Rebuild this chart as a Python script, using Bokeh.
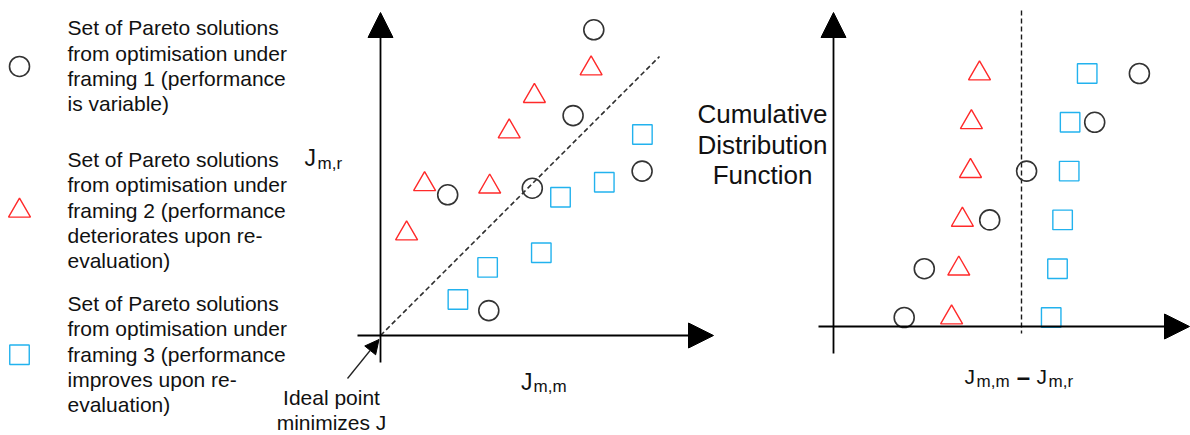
from bokeh.plotting import figure
from bokeh.models import Range1d, Arrow, NormalHead
from bokeh.embed import file_html
from bokeh.resources import INLINE
from bokeh.core.properties import value

# ---------------- data ----------------
# Panel 1: J_m,m (x) vs J_m,r (y) for the three framings
f1_jmm = [7.11, 6.42, 8.72, 5.06, 2.24, 3.61]
f1_jmr = [10.19, 7.33, 5.48, 4.91, 4.69, 0.83]
f2_jmm = [7.02, 5.13, 4.29, 1.47, 3.64, 0.87]
f2_jmr = [8.90, 7.98, 6.80, 5.04, 4.96, 3.40]
f3_jmm = [8.73, 7.46, 6.00, 5.36, 3.57, 2.58]
f3_jmr = [6.70, 5.11, 4.61, 2.76, 2.27, 1.20]

# Panel 2: cumulative distribution of J_m,m - J_m,r (rank 1..6)
cdf_rank = [1, 2, 3, 4, 5, 6]
f1_diff = [-3.91, -3.24, -1.06, 0.17, 2.44, 3.93]
f2_diff = [-2.33, -2.09, -1.97, -1.70, -1.67, -1.40]
f3_diff = [0.99, 1.20, 1.37, 1.59, 1.62, 2.19]

legend_texts = [
    ["Set of Pareto solutions", "from optimisation  under", "framing 1 (performance", "is variable)"],
    ["Set of Pareto solutions", "from optimisation  under", "framing 2 (performance", "deteriorates upon re-", "evaluation)"],
    ["Set of Pareto solutions", "from optimisation  under", "framing 3 (performance", "improves upon re-", "evaluation)"],
]
cdf_title = ["Cumulative", "Distribution", "Function"]

# ---------------- styles ----------------
W, H = 1190, 435
FONT = value("Liberation Sans")
TXT = "#111111"
C_BLACK = "#333333"
C_RED = "#ff2a2a"
C_BLUE = "#22b2ee"
styles = {
    "f1": dict(marker="circle", size=20, line_color=C_BLACK, line_width=1.6),
    "f2": dict(marker="triangle", size=22, line_color=C_RED, line_width=1.4),
    "f3": dict(marker="square", size=19.5, line_color=C_BLUE, line_width=1.4),
}

p = figure(width=W, height=H, x_range=Range1d(0, W), y_range=Range1d(H, 0),
           output_backend="svg", toolbar_location=None,
           x_axis_type=None, y_axis_type=None, min_border=0)
p.outline_line_color = None
p.xgrid.visible = False
p.ygrid.visible = False
p.background_fill_color = "white"
p.border_fill_color = "white"

# panel scales: pixel origin and pixels per unit
SC_OX, SC_OY, SC_K = 380, 335, 30
CD_OX, CD_K = 1021, 30
CD_OY, CD_KY = 365.8, 48.8
p.extra_x_ranges = {
    "sx": Range1d((0 - SC_OX) / SC_K, (W - SC_OX) / SC_K),
    "cx": Range1d((0 - CD_OX) / CD_K, (W - CD_OX) / CD_K),
}
p.extra_y_ranges = {
    "sy": Range1d((SC_OY - H) / SC_K, SC_OY / SC_K),
    "cy": Range1d((CD_OY - H) / CD_KY, CD_OY / CD_KY),
}


def label(xs, ys, texts, size, align="left", style="normal"):
    # ys are intended baselines; compensate for the svg baseline placement
    shift = 0.37 * size
    p.text(x=xs, y=[y - shift for y in ys], text=texts, text_font=FONT,
           text_font_size=f"{size}px", text_font_style=style,
           text_align=align, text_baseline="alphabetic", text_color=TXT)


# ---------------- legend ----------------
para_top = [35, 166.7, 310.7]
LH = 25.3
lx, ly, lt = [], [], []
sw_y = []
for top, lines in zip(para_top, legend_texts):
    for i, t in enumerate(lines):
        lx.append(67)
        ly.append(top + i * LH)
        lt.append(t)
    sw_y.append(top - 7 + (len(lines) - 1) * LH / 2)
label(lx, ly, lt, 21)
for key, yy in zip(["f1", "f2", "f3"], sw_y):
    p.scatter(x=[19], y=[yy], fill_color=None, **styles[key])

# ---------------- scatter panel ----------------
axis_kw = dict(line_color="black", line_width=1.8)
head = lambda s: NormalHead(size=s, fill_color="black", line_color="black", line_width=1)
p.add_layout(Arrow(end=head(25), x_start=SC_OX, y_start=362, x_end=SC_OX, y_end=12, **axis_kw))
p.add_layout(Arrow(end=head(25), x_start=357, y_start=SC_OY, x_end=713, y_end=SC_OY, **axis_kw))
p.line(x=[0, 9.3], y=[0, 9.3], x_range_name="sx", y_range_name="sy",
       line_color="#2e2e2e", line_width=1.6, line_dash="5 3")
for key, xs, ys in [("f1", f1_jmm, f1_jmr), ("f2", f2_jmm, f2_jmr), ("f3", f3_jmm, f3_jmr)]:
    p.scatter(x=xs, y=ys, x_range_name="sx", y_range_name="sy", fill_color=None, **styles[key])

# ideal point annotation
p.add_layout(Arrow(end=head(14), x_start=347, y_start=378, x_end=378.5, y_end=339,
                   line_color="#222222", line_width=1.3))
label([331, 331], [405, 430], ["Ideal point", "minimizes J"], 21, align="center")

# axis labels J_m,r and J_m,m
label([304, 520.5], [166.5, 390], ["J", "J"], 23)
label([317, 533], [169, 392.5], ["m,r", "m,m"], 17)

# ---------------- CDF panel ----------------
p.add_layout(Arrow(end=head(25), x_start=833, y_start=353, x_end=833, y_end=12, **axis_kw))
p.add_layout(Arrow(end=head(25), x_start=818, y_start=326, x_end=1189, y_end=326, **axis_kw))
p.line(x=[0, 0], y=[10, 333], x_range_name="cx", line_color="#1a1a1a", line_width=1.4, line_dash="5 3")
for key, xs in [("f1", f1_diff), ("f2", f2_diff), ("f3", f3_diff)]:
    p.scatter(x=xs, y=cdf_rank, x_range_name="cx", y_range_name="cy", fill_color=None, **styles[key])

label([762] * 3, [123.3, 154, 184.5], cdf_title, 26, align="center")

# x label J_m,m - J_m,r
label([964, 1036], [383.5, 383.5], ["J", "J"], 21)
label([976, 1048], [387, 387], ["m,m", "m,r"], 17)
label([1023], [385], ["\u2013"], 24, align="center", style="bold")

open("out.html", "w").write(file_html(p, INLINE))
